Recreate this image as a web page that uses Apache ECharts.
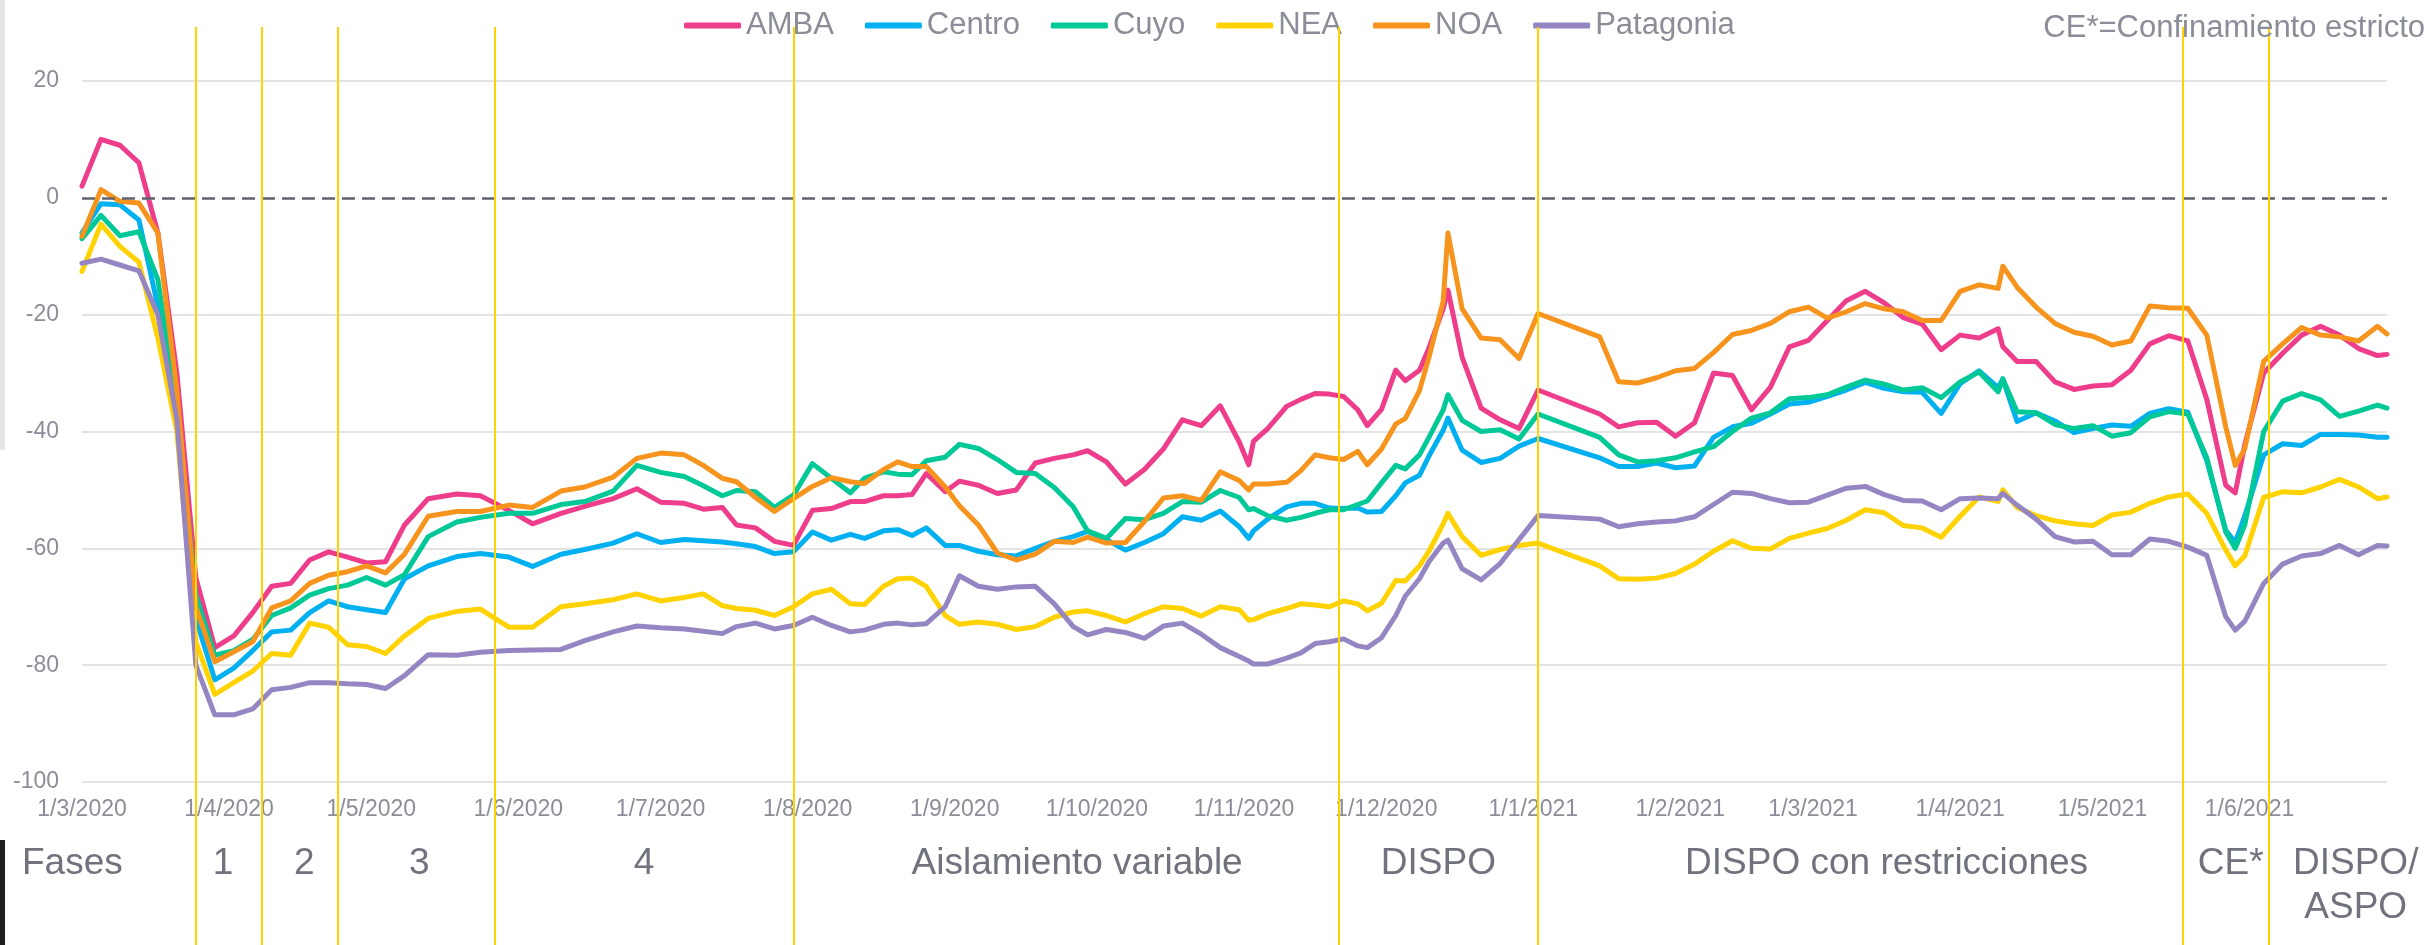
<!DOCTYPE html>
<html>
<head>
<meta charset="utf-8">
<title>Movilidad por región</title>
<script src="https://cdn.jsdelivr.net/npm/echarts@6/dist/echarts.min.js"></script>
<style>
  html, body { margin: 0; padding: 0; background: #fff; }
  #chart { width: 2432px; height: 945px; }
</style>
</head>
<body>
<div id="chart"></div>
<script>
// días desde el 1/3/2020
var days = [0, 4, 8, 12, 16, 20, 24, 28, 32, 36, 40, 44, 48, 52, 56, 60, 64, 68,
  73, 79, 84, 90, 95, 101, 106, 112, 117, 122, 127, 131, 135, 138, 142, 146, 150, 154, 158, 162,
  165, 169, 172, 175, 178, 182, 185, 189, 193, 197, 201, 205, 209, 212, 216, 220, 224, 228, 232, 236, 240, 244,
  246, 247, 250, 254, 257, 260, 263, 266, 269, 271, 274, 277, 279, 282, 284, 287, 288,
  291, 295, 299, 303, 307, 320, 324, 328, 332, 336, 340, 344, 348, 352, 356, 360, 364, 368,
  372, 376, 380, 384, 388, 392, 396, 400, 404, 405, 408, 412, 416, 420, 424, 428, 432, 436,
  440, 444, 448, 452, 454, 456, 460, 464, 468, 472, 476, 480, 484, 486]

var amba = [2, 10, 9, 6, -6, -30, -65, -77, -75, -71, -66.5, -66, -62, -60.6, -61.5, -62.5, -62.3, -56, -51.5, -50.7,
  -51, -53.5, -55.8, -54, -52.8, -51.5, -49.8, -52.1, -52.3, -53.3, -53, -56, -56.5, -58.8, -59.5, -53.5, -53.2, -52,
  -52, -51, -51, -50.8, -47.2, -50.3, -48.5, -49.2, -50.6, -50, -45.4, -44.6, -44, -43.3, -45.2, -49, -46.5, -43,
  -38, -39, -35.6, -41.8, -45.7, -41.7, -39.5, -35.7, -34.5, -33.5, -33.6, -34, -36.3, -39, -36.2, -29.5, -31.3, -29.5,
  -25.7, -19, -15.8,
  -27.3, -36, -38, -39.5, -32.9, -37, -39.2, -38.5, -38.4, -40.8, -38.5, -30, -30.4, -36.3, -32.4, -25.5, -24.4, -21,
  -17.6, -16, -18, -20.5, -21.6, -26, -23.5, -24, -22.4, -25.5, -28, -28, -31.5, -32.8, -32.2, -32, -29.5, -25,
  -23.6, -24.5, -34.5, -49.2, -50.5, -42.3, -30, -26.6, -23.5, -22, -23.5, -25.8, -27, -26.8]

var centro = [-6, -1, -1.2, -3.8, -18.6, -36, -72, -82.5, -80.5, -77.5, -74.3, -74, -71, -69, -70, -70.5, -71, -65.2, -63, -61.4,
  -60.9, -61.5, -63.1, -61, -60.2, -59.1, -57.5, -59, -58.5, -58.7, -58.9, -59.2, -59.7, -60.9, -60.6, -57.2, -58.6, -57.6,
  -58.3, -57, -56.8, -57.8, -56.5, -59.5, -59.5, -60.5, -61.1, -61.3, -60, -58.8, -58, -57.1, -58.5, -60.3, -59, -57.5,
  -54.6, -55.2, -53.6, -56.3, -58.3, -57, -55, -52.9, -52.3, -52.3, -53.1, -53.2, -53.1, -53.8, -53.7, -51, -48.8, -47.5,
  -44.2, -39.8, -37.7,
  -43.2, -45.3, -44.6, -42.5, -41.2, -44.5, -46, -46, -45.4, -46.2, -45.9, -41, -39.2, -38.6, -37, -35.3, -35, -34,
  -32.9, -31.6, -32.6, -33.2, -33.3, -36.9, -31.8, -29.6, -32.5, -31, -38.3, -36.8, -38.2, -40.2, -39.5, -38.9, -39.1, -36.9,
  -36.1, -36.7, -45, -56.9, -59, -54.5, -44, -42.1, -42.4, -40.5, -40.5, -40.6, -41, -41]

var cuyo = [-7, -3, -6.5, -5.8, -14, -36, -68, -78.3, -77.5, -75.6, -71.5, -70.2, -68, -66.9, -66.3, -65, -66.3, -64.5, -58, -55.5,
  -54.7, -54, -54, -52.5, -52, -50.2, -45.8, -47, -47.7, -49.3, -51, -50.1, -50.3, -53, -50.9, -45.5, -48, -50.5,
  -48, -46.9, -47.3, -47.4, -45, -44.4, -42.2, -42.9, -44.8, -47, -47.2, -49.6, -52.9, -57, -58.3, -54.9, -55.1, -54,
  -52, -52.1, -50.1, -51.3, -53.4, -53.2, -54.4, -55.2, -54.7, -54, -53.4, -53.4, -52.5, -51.9, -48.8, -45.8, -46.4, -44,
  -41, -36.3, -33.7,
  -38.1, -40, -39.7, -41.3, -37, -41, -44, -45.2, -45, -44.5, -43.5, -42.6, -40, -37.7, -36.8, -34.4, -34.2, -33.7,
  -32.4, -31.2, -31.9, -32.9, -32.5, -34.2, -31.5, -29.8, -33.2, -31, -36.6, -36.8, -38.8, -39.5, -39, -40.8, -40.2, -37.5,
  -36.6, -37, -44.5, -57.2, -60, -56, -40, -34.8, -33.5, -34.6, -37.4, -36.5, -35.5, -36]

var nea = [-12.6, -4.5, -8.3, -11, -24, -40, -76, -85, -83, -81, -78, -78.3, -72.8, -73.5, -76.5, -76.8, -78, -75, -72, -70.8,
  -70.4, -73.5, -73.5, -70, -69.5, -68.8, -67.8, -69, -68.4, -67.8, -69.8, -70.3, -70.6, -71.5, -70, -67.8, -67, -69.5,
  -69.6, -66.5, -65.2, -65.1, -66.5, -71.5, -73, -72.6, -73, -73.9, -73.4, -71.8, -70.9, -70.7, -71.5, -72.6, -71.2, -70,
  -70.3, -71.6, -70, -70.5, -72.3, -72.2, -71.2, -70.3, -69.5, -69.7, -70, -69, -69.5, -70.7, -69.4, -65.5, -65.6, -63,
  -60.5, -55.8, -54,
  -58, -61.2, -60.2, -59.5, -59.1, -63, -65.2, -65.3, -65.1, -64.3, -62.7, -60.5, -58.7, -60, -60.1, -58.3, -57.4, -56.6,
  -55.2, -53.4, -53.9, -56.1, -56.5, -58.1, -54.5, -51.2, -52, -50, -53, -54.4, -55.3, -55.8, -56.1, -54.3, -53.8, -52.3,
  -51.2, -50.7, -54, -60.3, -63, -61.3, -51.3, -50.3, -50.5, -49.5, -48.2, -49.5, -51.5, -51.2]

var noa = [-6.6, 1.4, -0.6, -0.9, -6, -33, -70, -79.4, -77.7, -76, -70.2, -69, -66, -64.6, -64, -63, -64.2, -61, -54.5, -53.7,
  -53.7, -52.6, -53, -50.2, -49.5, -47.8, -44.6, -43.7, -44, -45.8, -48, -48.6, -51.3, -53.7, -51.5, -49.4, -47.9, -48.6,
  -48.9, -46.5, -45.2, -46, -46, -49.5, -52.7, -56, -60.8, -62, -61, -58.8, -59, -58.1, -59.1, -59, -55.4, -51.4,
  -51, -51.8, -46.9, -48.4, -50, -49, -49, -48.7, -46.7, -44, -44.5, -44.8, -43.4, -45.7, -43, -38.7, -37.8, -33,
  -27.3, -17.7, -6,
  -19, -24, -24.3, -27.5, -19.8, -23.8, -31.5, -31.7, -30.8, -29.6, -29.2, -26.5, -23.4, -22.7, -21.5, -19.5, -18.7, -20.6,
  -19.5, -18.1, -19, -19.5, -21, -21, -16, -14.9, -15.5, -11.7, -15.3, -18.7, -21.5, -23, -23.7, -25.2, -24.5, -18.5,
  -18.8, -18.9, -23.5, -39.2, -45.8, -43, -28, -25, -22.2, -23.5, -23.8, -24.5, -22, -23.3]

var patagonia = [-11.2, -10.5, -11.5, -12.5, -20, -38, -80, -88.5, -88.5, -87.5, -84.2, -83.8, -83, -83, -83.2, -83.3, -84, -81.8, -78.2, -78.3,
  -77.8, -77.5, -77.4, -77.3, -75.8, -74.3, -73.3, -73.6, -73.8, -74.2, -74.6, -73.4, -72.8, -73.8, -73.2, -71.8, -73.2, -74.3,
  -74, -73, -72.8, -73.1, -72.9, -70, -64.7, -66.5, -67, -66.6, -66.5, -69.5, -73.4, -74.8, -73.9, -74.4, -75.4, -73.3,
  -72.8, -74.7, -77, -78.5, -79.3, -79.8, -79.8, -78.8, -77.9, -76.3, -76, -75.5, -76.7, -77, -75.3, -71.5, -68.2, -65.2,
  -62.3, -59.1, -58.6,
  -63.5, -65.4, -62.6, -58.5, -54.4, -55, -56.3, -55.8, -55.5, -55.3, -54.6, -52.5, -50.4, -50.6, -51.5, -52.2, -52.1, -50.9,
  -49.7, -49.4, -50.8, -51.8, -51.9, -53.4, -51.5, -51.4, -51.5, -50.6, -52.6, -55, -58, -58.9, -58.8, -61.1, -61.1, -58.4,
  -58.8, -59.8, -61.2, -71.7, -74, -72.5, -66, -62.7, -61.3, -60.9, -59.5, -61.1, -59.5, -59.6]

var regions = ['AMBA', 'Centro', 'Cuyo', 'NEA', 'NOA', 'Patagonia']
var values = [amba, centro, cuyo, nea, noa, patagonia]
var colors = ['#ee3d8b', '#00b0f0', '#00c896', '#ffd200', '#f7941d', '#9586c3']

// cambios de fase (líneas amarillas) y nombres de cada tramo
var phaseBounds = ['25/3/2020', '8/4/2020', '24/4/2020', '27/5/2020', '29/7/2020',
  '21/11/2020', '2/1/2021', '18/5/2021', '5/6/2021', '30/6/2021']
var phaseNames = ['1', '2', '3', '4', 'Aislamiento variable', 'DISPO',
  'DISPO con restricciones', 'CE*', 'DISPO/\nASPO']

var axisStart = '1/3/2020'
var axisEnd = '30/6/2021'

var FONT = "'Liberation Sans', Arial, sans-serif"
var GREY = '#8b8e98'
// pequeños corrimientos de los rótulos de fase (px)
var labelShift = { '1': -6, '2': 4, '3': 3, 'Aislamiento variable': 11, 'DISPO con restricciones': 26, 'CE*': 5, 'DISPO/\nASPO': 28 }

function parseDay (s) {
  var p = s.split('/')
  return new Date(+p[2], +p[1] - 1, +p[0]).getTime()
}
function dayToTime (d) {
  return new Date(2020, 2, 1 + d).getTime()
}

var tMin = parseDay(axisStart)
var tMax = parseDay(axisEnd)
var bounds = phaseBounds.map(parseDay)

var chart = echarts.init(document.getElementById('chart'))

var series = regions.map(function (name, i) {
  return {
    name: name,
    type: 'line',
    xAxisIndex: 0,
    yAxisIndex: 0,
    symbol: 'none',
    z: 3,
    data: days.map(function (d, k) { return [dayToTime(d), values[i][k]] }),
    lineStyle: { width: 5, color: colors[i], cap: 'round', join: 'round' },
    itemStyle: { color: colors[i] }
  }
})

// línea punteada del 0
series.push({
  type: 'line',
  xAxisIndex: 0,
  yAxisIndex: 0,
  data: [],
  z: 2,
  markLine: {
    silent: true,
    symbol: 'none',
    label: { show: false },
    lineStyle: { type: [13, 7], color: '#5f636d', width: 2.5 },
    data: [{ yAxis: 0 }]
  }
})

// líneas amarillas de cambio de fase
series.push({
  type: 'line',
  xAxisIndex: 1,
  yAxisIndex: 1,
  data: [[tMin, 0.5]],
  symbol: 'none',
  z: 1,
  markLine: {
    silent: true,
    symbol: 'none',
    label: { show: false },
    lineStyle: { type: 'solid', color: '#ffd200', width: 2 },
    data: bounds.slice(0, bounds.length - 1).map(function (t) { return { xAxis: t } })
  }
})

// nombres de las fases
series.push({
  type: 'line',
  xAxisIndex: 2,
  yAxisIndex: 2,
  data: [[tMin, 0.5]],
  symbol: 'none',
  z: 1,
  markArea: {
    silent: true,
    itemStyle: { color: 'rgba(0,0,0,0)' },
    label: {
      position: 'insideTop',
      distance: 5,
      fontSize: 37,
      lineHeight: 44,
      fontFamily: FONT,
      color: '#70737e'
    },
    data: phaseNames.map(function (n, i) {
      return [{ xAxis: bounds[i], name: n, label: { offset: [labelShift[n] || 0, 0] } }, { xAxis: bounds[i + 1] }]
    })
  }
})

function hiddenTime (idx) {
  return { type: 'time', gridIndex: idx, min: tMin, max: tMax, show: false }
}

var option = {
  animation: false,
  backgroundColor: '#ffffff',
  textStyle: { fontFamily: FONT },
  title: {
    text: 'CE*=Confinamiento estricto',
    right: 7,
    top: 13,
    padding: 0,
    textStyle: { fontSize: 31, fontWeight: 'normal', color: GREY, fontFamily: FONT }
  },
  legend: {
    data: regions,
    left: 684,
    top: 10,
    padding: 0,
    itemGap: 31,
    itemWidth: 57,
    itemHeight: 6,
    icon: 'roundRect',
    selectedMode: false,
    textStyle: { fontSize: 31, color: GREY, fontFamily: FONT }
  },
  grid: [
    { left: 82, right: 45, top: 81, bottom: 163 },
    { left: 82, right: 45, top: 27, bottom: 0 },
    { left: 82, right: 45, top: 837, bottom: 0 }
  ],
  xAxis: [
    {
      type: 'time',
      gridIndex: 0,
      min: tMin,
      max: tMax,
      splitNumber: 16,
      minInterval: 28 * 864e5,
      maxInterval: 31 * 864e5,
      axisLine: { show: false },
      axisTick: { show: false },
      splitLine: { show: false },
      axisLabel: {
        fontSize: 23,
        color: GREY,
        fontFamily: FONT,
        margin: 16,
        formatter: function (v) {
          var d = new Date(v)
          return d.getDate() + '/' + (d.getMonth() + 1) + '/' + d.getFullYear()
        }
      }
    },
    hiddenTime(1),
    hiddenTime(2)
  ],
  yAxis: [
    {
      type: 'value',
      gridIndex: 0,
      min: -100,
      max: 20,
      interval: 20,
      axisLine: { show: false },
      axisTick: { show: false },
      axisLabel: { fontSize: 23, color: GREY, fontFamily: FONT, margin: 23 },
      splitLine: {
        lineStyle: {
          width: 2,
          color: ['#e3e3e3', '#e3e3e3', '#e3e3e3', '#e3e3e3', '#e3e3e3', 'rgba(0,0,0,0)', '#e3e3e3']
        }
      }
    },
    { type: 'value', gridIndex: 1, min: 0, max: 1, show: false },
    { type: 'value', gridIndex: 2, min: 0, max: 1, show: false }
  ],
  graphic: [
    { type: 'rect', shape: { x: 0, y: 0, width: 5, height: 450 }, style: { fill: '#e6e6e6' }, silent: true },
    { type: 'rect', shape: { x: 0, y: 840, width: 5, height: 105 }, style: { fill: '#1e1e1e' }, silent: true },
    {
      type: 'text',
      x: 22,
      y: 864,
      silent: true,
      style: { text: 'Fases', fontSize: 37, fontFamily: FONT, fill: '#70737e', verticalAlign: 'middle', align: 'left' }
    }
  ],
  series: series
}

chart.setOption(option)
</script>
</body>
</html>
